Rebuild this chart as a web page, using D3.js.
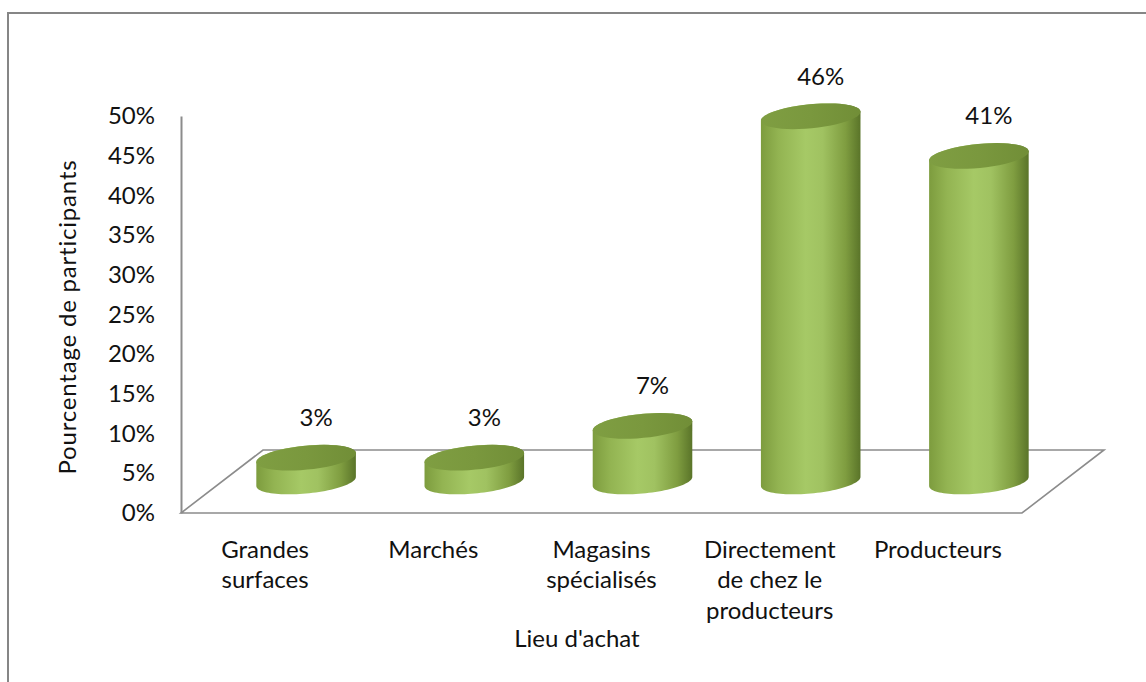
<!DOCTYPE html>
<html>
<head>
<meta charset="utf-8">
<script src="https://cdn.jsdelivr.net/npm/d3@7"></script>
<style>
  html, body { margin: 0; padding: 0; background: #fff; }
  svg { display: block; }
  text { font-family: Lato, "Open Sans", sans-serif; font-weight: 400; fill: #111; }
</style>
</head>
<body>
<svg id="chart" width="1146" height="682"></svg>
<script>
// Lieu d'achat des participants
const categories = [
  "Grandes surfaces",
  "Marchés",
  "Magasins spécialisés",
  "Directement de chez le producteurs",
  "Producteurs"
];
const values = [3, 3, 7, 46, 41];
const yTicks = [0, 5, 10, 15, 20, 25, 30, 35, 40, 45, 50];
const yTitle = "Pourcentage de participants";
const xTitle = "Lieu d'achat";

(function () {
const svg = d3.select("#chart");
const fontSize = 24;

// outer chart frame
svg.append("rect")
  .attr("x", 8).attr("y", 13)
  .attr("width", 1400).attr("height", 900)
  .attr("fill", "none").attr("stroke", "#868686").attr("stroke-width", 2);

// front plane geometry and depth offset of the 3D floor
const plotLeft = 181, plotRight = 1022, plotBottom = 513, plotTop = 116;
const depth = { dx: 82, dy: -63 };

const x = d3.scaleBand().domain(categories).range([plotLeft, plotRight]).padding(0);
const y = d3.scaleLinear().domain([0, 50]).range([plotBottom, plotTop]);

// floor parallelogram
const floor = d3.path();
floor.moveTo(plotLeft, plotBottom);
floor.lineTo(plotRight, plotBottom);
floor.lineTo(plotRight + depth.dx, plotBottom + depth.dy);
floor.lineTo(plotLeft + depth.dx, plotBottom + depth.dy);
floor.closePath();
svg.append("path")
  .attr("d", floor.toString())
  .attr("fill", "none").attr("stroke", "#8c8c8c").attr("stroke-width", 1.6);

// value axis
const yAxis = svg.append("g")
  .attr("transform", `translate(${plotLeft},0)`)
  .call(d3.axisLeft(y).tickValues(yTicks).tickFormat(d => d + "%")
    .tickSize(0).tickSizeOuter(0).tickPadding(26));
yAxis.select(".domain").attr("stroke", "#8c8c8c").attr("stroke-width", 2);
yAxis.selectAll("text")
  .attr("font-family", "Lato, sans-serif")
  .attr("font-size", fontSize).attr("fill", "#111");

// cylinder gradients
const defs = svg.append("defs");
const side = defs.append("linearGradient").attr("id", "cylSide")
  .attr("x1", "0").attr("x2", "1").attr("y1", "0").attr("y2", "0");
[["0%", "#7d9c3e"], ["18%", "#93b452"], ["45%", "#a6c966"], ["62%", "#a0c261"],
 ["85%", "#7f9d40"], ["100%", "#5a7429"]]
  .forEach(([o, c]) => side.append("stop").attr("offset", o).attr("stop-color", c));
const cap = defs.append("linearGradient").attr("id", "cylTop")
  .attr("x1", "0").attr("x2", "1").attr("y1", "0").attr("y2", "0");
[["0%", "#7f9e42"], ["50%", "#7a983e"], ["100%", "#718e37"]]
  .forEach(([o, c]) => cap.append("stop").attr("offset", o).attr("stop-color", c));

// cylinders sit at mid depth of the floor
const mid = { dx: depth.dx / 2, dy: depth.dy / 2 };
const rx = 50, ry = 12, theta = -5.5 * Math.PI / 180;
const cosT = Math.cos(theta), sinT = Math.sin(theta);

function pt(cx, cy, t) {
  return [cx + rx * Math.cos(t) * cosT - ry * Math.sin(t) * sinT,
          cy + rx * Math.cos(t) * sinT + ry * Math.sin(t) * cosT];
}
const tR = Math.atan(-ry * sinT / (rx * cosT));
const tL = tR + Math.PI;

function arc(p, cx, cy, t0, t1, first) {
  const n = 48;
  for (let i = 0; i <= n; i++) {
    const [px, py] = pt(cx, cy, t0 + (t1 - t0) * i / n);
    if (i === 0 && first) p.moveTo(px, py); else p.lineTo(px, py);
  }
}

const bars = svg.append("g");
categories.forEach((c, i) => {
  const v = values[i];
  const cx = x(c) + x.bandwidth() / 2 + mid.dx;
  const yb = y(0) + mid.dy;
  const yt = y(v) + mid.dy;

  const body = d3.path();
  arc(body, cx, yt, tL, tR + 2 * Math.PI, true);   // upper rim of the lid
  arc(body, cx, yb, tR, tL, false);                // lower rim of the base
  body.closePath();
  bars.append("path").attr("d", body.toString()).attr("fill", "url(#cylSide)");

  const lid = d3.path();
  arc(lid, cx, yt, 0, 2 * Math.PI, true);
  lid.closePath();
  bars.append("path").attr("d", lid.toString()).attr("fill", "url(#cylTop)");

  svg.append("text")
    .attr("x", cx + 10).attr("y", yt - ry - 29)
    .attr("text-anchor", "middle").attr("dominant-baseline", "central")
    .attr("font-size", fontSize)
    .text(v + "%");
});

// category labels, wrapped within the band
const lineH = 30.5;
categories.forEach(c => {
  const cx = x(c) + x.bandwidth() / 2;
  const t = svg.append("text")
    .attr("text-anchor", "middle").attr("font-size", fontSize);
  const words = c.split(" ");
  const lines = [];
  let cur = [];
  const probe = t.append("tspan");
  words.forEach(w => {
    probe.text(cur.concat([w]).join(" "));
    if (probe.node().getComputedTextLength() > x.bandwidth() * 0.9 && cur.length) {
      lines.push(cur.join(" "));
      cur = [w];
    } else cur.push(w);
  });
  lines.push(cur.join(" "));
  probe.remove();
  lines.forEach((ln, k) => {
    t.append("tspan")
      .attr("x", cx).attr("y", 548 + k * lineH)
      .attr("dominant-baseline", "central")
      .text(ln);
  });
});

// axis titles
svg.append("text")
  .attr("transform", "translate(66,317) rotate(-90)")
  .attr("text-anchor", "middle").attr("dominant-baseline", "central")
  .attr("font-size", fontSize).attr("letter-spacing", 0.8)
  .text(yTitle);
svg.append("text")
  .attr("x", 577).attr("y", 637)
  .attr("text-anchor", "middle").attr("dominant-baseline", "central")
  .attr("font-size", fontSize)
  .text(xTitle);
})();
</script>
</body>
</html>
